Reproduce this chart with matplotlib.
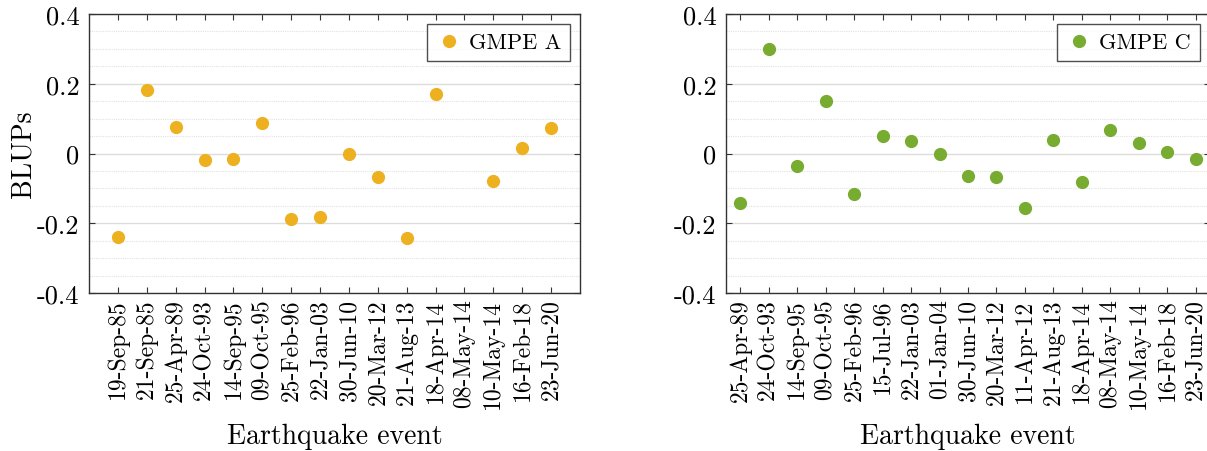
import numpy as np
import matplotlib
matplotlib.use("Agg")
import matplotlib.pyplot as plt
from matplotlib.ticker import MultipleLocator

plt.rcParams["font.family"] = ["cmr10", "DejaVu Serif"]

# GMPE A
events_a = ["19-Sep-85", "21-Sep-85", "25-Apr-89", "24-Oct-93", "14-Sep-95",
            "09-Oct-95", "25-Feb-96", "22-Jan-03", "30-Jun-10", "20-Mar-12",
            "21-Aug-13", "18-Apr-14", "08-May-14", "10-May-14", "16-Feb-18",
            "23-Jun-20"]
blups_a = [-0.240, 0.182, 0.075, -0.020, -0.015, 0.087, -0.187, -0.182,
           0.000, -0.068, -0.243, 0.172, np.nan, -0.078, 0.015, 0.072]

# GMPE C
events_c = ["25-Apr-89", "24-Oct-93", "14-Sep-95", "09-Oct-95", "25-Feb-96",
            "15-Jul-96", "22-Jan-03", "01-Jan-04", "30-Jun-10", "20-Mar-12",
            "11-Apr-12", "21-Aug-13", "18-Apr-14", "08-May-14", "10-May-14",
            "16-Feb-18", "23-Jun-20"]
blups_c = [-0.143, 0.300, -0.037, 0.150, -0.115, 0.050, 0.036, -0.002,
           -0.065, -0.068, -0.155, 0.038, -0.083, 0.068, 0.030, 0.005, -0.016]

y_ticks = [-0.4, -0.2, 0, 0.2, 0.4]
y_ticklabels = ["-0.4", "-0.2", "0", "0.2", "0.4"]

W, H = 1207, 452
fig = plt.figure(figsize=(W / 100, H / 100), dpi=100)
ax1 = fig.add_axes([89 / W, 158 / H, 491 / W, 279 / H])
ax2 = fig.add_axes([726 / W, 158 / H, 484 / W, 279 / H])


def style_panel(ax, events, vals, color, label, xlim):
    x = np.arange(1, len(events) + 1)
    ax.plot(x, vals, "o", color=color, markersize=8.5, label=label, zorder=3)
    ax.set_xlim(*xlim)
    ax.set_ylim(-0.4, 0.4)
    ax.set_xticks(x)
    ax.set_xticklabels(events, rotation=90, fontsize=17)
    ax.set_yticks(y_ticks)
    ax.set_yticklabels(y_ticklabels, fontsize=19)
    ax.yaxis.set_minor_locator(MultipleLocator(0.05))
    ax.grid(axis="y", which="major", color="#dcdcdc", linewidth=1.0, zorder=0)
    ax.grid(axis="y", which="minor", color="#e2e2e2", linewidth=0.8,
            linestyle=(0, (1, 1)), zorder=0)
    ax.tick_params(axis="both", which="major", direction="in", length=4,
                   width=0.8, top=True, right=True, color="#333333")
    ax.tick_params(axis="y", which="major", pad=7)
    ax.tick_params(axis="x", which="major", pad=4)
    ax.tick_params(axis="y", which="minor", length=0)
    for sp in ax.spines.values():
        sp.set_color("#333333")
        sp.set_linewidth(1.0)
    ax.set_xlabel("Earthquake event", fontsize=20, labelpad=11)
    leg = ax.legend(loc="upper right", fontsize=16, frameon=True, fancybox=False,
                    handletextpad=0.3, borderpad=0.4, handlelength=1.2,
                    borderaxespad=0.45)
    leg.get_frame().set_edgecolor("#222222")
    leg.get_frame().set_linewidth(1.0)


style_panel(ax1, events_a, blups_a, "#EDB120", "GMPE A", (0, 17))
style_panel(ax2, events_c, blups_c, "#77AC30", "GMPE C", (0.5, 17.5))
ax1.set_ylabel("BLUPs", fontsize=20)
ax1.yaxis.set_label_coords(-0.106, 0.5)

fig.savefig("out.png", dpi=100)
